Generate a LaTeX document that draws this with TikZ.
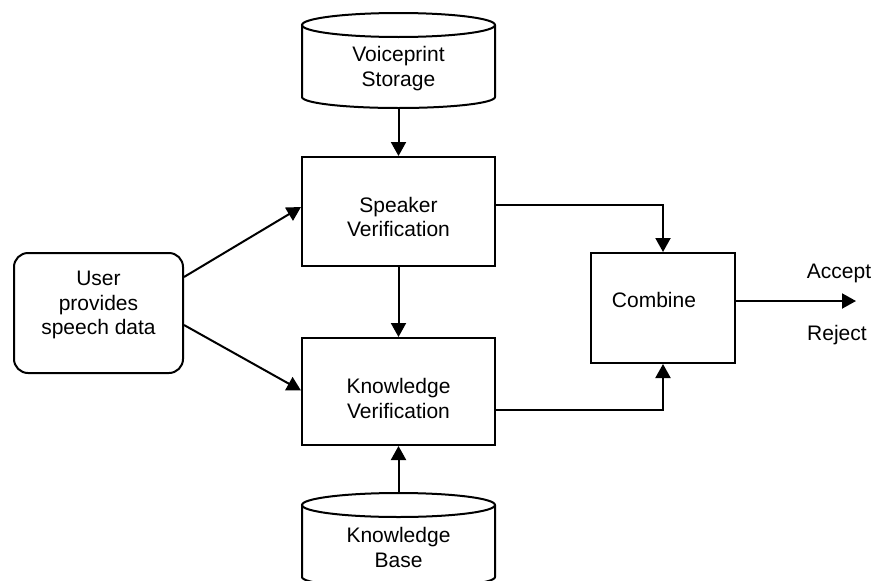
\documentclass[tikz,border=0pt]{standalone}
\usepackage{fontspec}
\setmainfont{Liberation Sans}
\usetikzlibrary{arrows.meta}
\begin{document}
\begin{tikzpicture}[x=1pt,y=-1pt,
  line width=2pt,
  every node/.style={font=\fontsize{21}{24.5}\selectfont, align=center, inner sep=0pt},
  boxshape/.style={draw, rectangle, minimum width=#1},
  arr/.style={-{Triangle[length=14pt,width=15pt]}},
]
\clip (0,0) rectangle (873,581);
% Voiceprint storage cylinder
\draw (302,25) -- (302,97) arc[start angle=180, end angle=360, x radius=96.5pt, y radius=11pt] -- (495,25);
\draw (398.5,25) ellipse [x radius=96.5pt, y radius=12pt];
\node (vs) at (398.5,68.5) {Voiceprint\\Storage};
\coordinate (vsbot) at (398.5,108);
% Knowledge base cylinder
\draw (302,505) -- (302,577) arc[start angle=180, end angle=360, x radius=96.5pt, y radius=11pt] -- (495,505);
\draw (398.5,505) ellipse [x radius=96.5pt, y radius=12pt];
\node (kb) at (398.5,547.5) {Knowledge\\Base};
\coordinate (kbtop) at (398.5,493);
% boxes
\node[boxshape=193pt, minimum height=109pt] (sv) at (398.5,211.5) {};
\node (svt) at (398.5,217) {Speaker\\Verification};
\node[boxshape=193pt, minimum height=107pt] (kv) at (398.5,391.5) {};
\node (kvt) at (398.5,398.5) {Knowledge\\Verification};
\node[boxshape=144pt, minimum height=110pt] (comb) at (663,308) {};
\node (combt) at (654,300) {Combine};
\node[draw, rectangle, rounded corners=14pt, minimum width=169pt, minimum height=120pt] (user) at (98.5,313) {};
\node (usert) at (98.5,305) {User\\provides\\speech data};
\node (acc) at (839,273) {Accept};
\node (rej) at (837,335) {Reject};
\coordinate (out) at (856,301);
% connectors
\draw[arr] (vsbot) -- (sv.north);
\draw[arr] (kbtop) -- (kv.south);
\draw[arr] (sv.south) -- (kv.north);
\draw[arr] ([yshift=36pt]user.east) -- ([yshift=4.5pt]sv.west);
\draw[arr] ([yshift=-12pt]user.east) -- ([yshift=1pt]kv.west);
\draw[arr] ([yshift=6.5pt]sv.east) -| (comb.north);
\draw[arr] ([yshift=-18.5pt]kv.east) -| (comb.south);
\draw[arr] ([yshift=7pt]comb.east) -- (out);
\end{tikzpicture}
\end{document}
